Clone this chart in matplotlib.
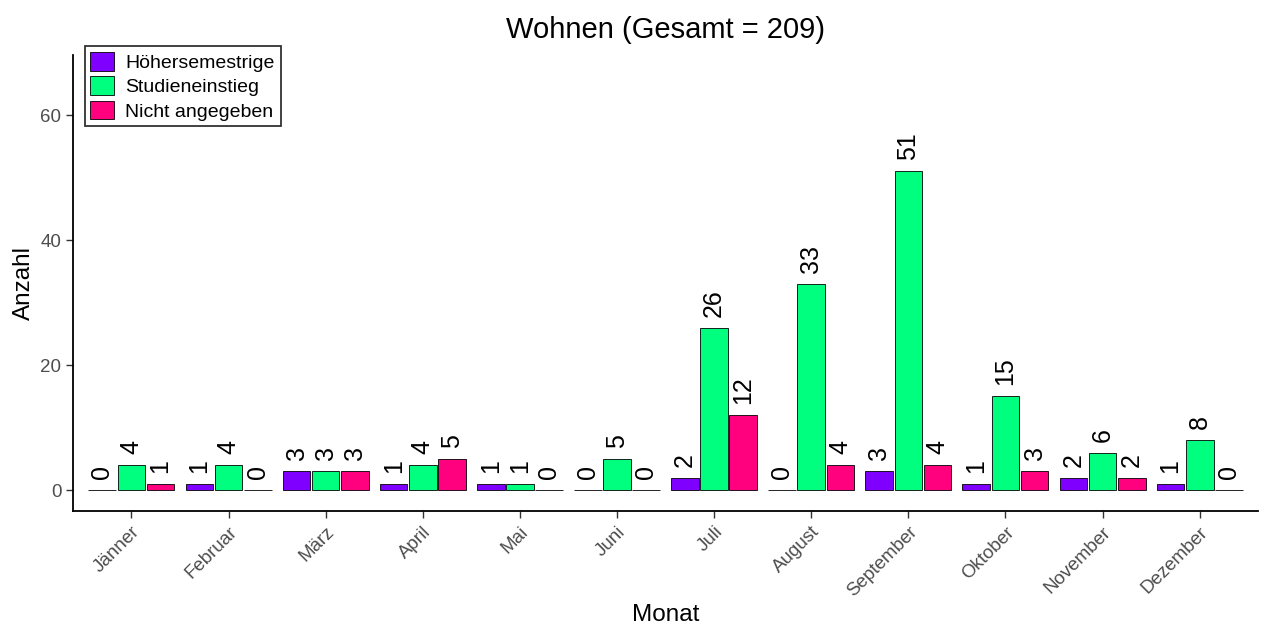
import matplotlib
matplotlib.use("Agg")
import matplotlib.pyplot as plt
import numpy as np

plt.rcParams['font.family'] = ['Liberation Sans', 'DejaVu Sans']

months = ["Jänner", "Februar", "März", "April", "Mai", "Juni", "Juli",
          "August", "September", "Oktober", "November", "Dezember"]
series_names = ["Höhersemestrige", "Studieneinstieg", "Nicht angegeben"]
hoeher = [0, 1, 3, 1, 1, 0, 2, 0, 3, 1, 2, 1]
studien = [4, 4, 3, 4, 1, 5, 26, 33, 51, 15, 6, 8]
nicht = [1, 0, 3, 5, 0, 0, 12, 4, 4, 3, 2, 0]
colors = ["#7F00FF", "#00FF7F", "#FF007F"]
yticks = [0, 20, 40, 60]

series = [hoeher, studien, nicht]
total = sum(sum(s) for s in series)

fig = plt.figure(figsize=(12.61, 6.30), dpi=100)
ax = fig.add_axes([0.058, 0.189, 0.9396, 0.7238])

x = np.arange(1, len(months) + 1)
dodge = 0.3
for i, (vals, col, name) in enumerate(zip(series, colors, series_names)):
    pos = x + (i - 1) * dodge
    ax.bar(pos, vals, width=0.285, color=col, edgecolor="black",
           linewidth=0.6, label=name)
    for p, v in zip(pos, vals):
        ax.annotate(str(v), (p, v), xytext=(0, 8), textcoords="offset points",
                    rotation=90, ha="center", va="bottom", fontsize=18,
                    color="black")

ymax = max(studien) * 1.3
ax.set_ylim(-0.05 * ymax, ymax * 1.05)
ax.set_xlim(0.4, len(months) + 0.6)
ax.set_xticks(x)
ax.set_xticklabels(months, rotation=45, ha="right", rotation_mode="anchor",
                   fontsize=13.5, color="#4D4D4D")
ax.set_yticks(yticks)
ax.set_yticklabels([str(t) for t in yticks], fontsize=13.5, color="#4D4D4D")
ax.tick_params(axis="both", direction="out", length=5, width=1, color="#333333")
ax.tick_params(axis="x", pad=4)
for s in ["top", "right"]:
    ax.spines[s].set_visible(False)
for s in ["left", "bottom"]:
    ax.spines[s].set_linewidth(1.3)
    ax.spines[s].set_color("black")

ax.set_xlabel("Monat", fontsize=17.5, labelpad=3)
ax.set_ylabel("Anzahl", fontsize=17.5, labelpad=4)
ax.set_title(f"Wohnen (Gesamt = {total})", fontsize=21, pad=12)

leg = ax.legend(loc="upper left", bbox_to_anchor=(-0.0035, 1.053), fontsize=14,
                frameon=True, fancybox=False, edgecolor="black",
                handlelength=1.2, handleheight=1.1, handletextpad=0.6,
                borderpad=0.3, labelspacing=0.22, borderaxespad=0.8)
leg.get_frame().set_linewidth(1.3)

fig.savefig("out.png", dpi=100)
